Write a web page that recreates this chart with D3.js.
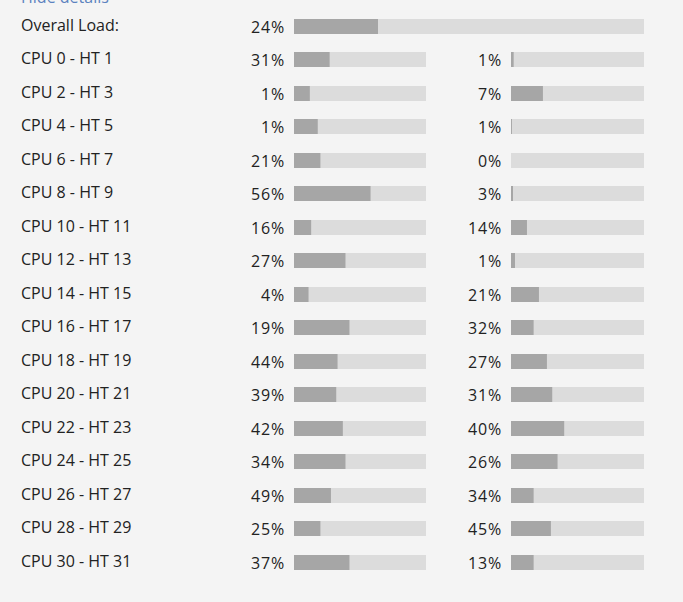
<!DOCTYPE html>
<html>
<head>
<meta charset="utf-8">
<script src="https://cdn.jsdelivr.net/npm/d3@7"></script>
<style>
  body { margin: 0; background: #f4f4f4; }
  svg { display: block; font-family: "Open Sans", sans-serif; }
</style>
</head>
<body>
<svg width="683" height="602"></svg>
<script>
var rowLabels = ["Overall Load:", "CPU 0 - HT 1", "CPU 2 - HT 3", "CPU 4 - HT 5", "CPU 6 - HT 7",
    "CPU 8 - HT 9", "CPU 10 - HT 11", "CPU 12 - HT 13", "CPU 14 - HT 15", "CPU 16 - HT 17",
    "CPU 18 - HT 19", "CPU 20 - HT 21", "CPU 22 - HT 23", "CPU 24 - HT 25", "CPU 26 - HT 27",
    "CPU 28 - HT 29", "CPU 30 - HT 31"];

// shown percentages
var overallPct = 24;
var cpuPct = [31, 1, 1, 21, 56, 16, 27, 4, 19, 44, 39, 42, 34, 49, 25, 37];
var htPct = [1, 7, 1, 0, 3, 14, 1, 21, 32, 27, 31, 40, 26, 34, 45, 13];

// bar fill levels (bars lag behind the numbers in the snapshot)
var overallFill = 24;
var cpuFill = [27, 12, 18, 20, 58, 13, 39, 11, 42, 33, 32, 37, 39, 28, 20, 42];
var htFill = [2, 24, 0.7, 0, 1.5, 12, 3, 21, 17, 27, 31, 40, 35, 17, 30, 17];

var svg = d3.select("svg");

var y = d3.scalePoint()
    .domain(rowLabels)
    .range([18.8, 18.8 + 16 * 33.5]);

var xFull = d3.scaleLinear().domain([0, 100]).range([294, 644]);
var xLeft = d3.scaleLinear().domain([0, 100]).range([294, 426]);
var xRight = d3.scaleLinear().domain([0, 100]).range([511, 644]);
var barH = 15;

var rows = [{label: rowLabels[0], bars: [{pct: overallPct, fill: overallFill, x: xFull}]}];
for (var i = 0; i < cpuPct.length; ++i) {
    rows.push({
        label: rowLabels[i + 1],
        bars: [
            {pct: cpuPct[i], fill: cpuFill[i], x: xLeft},
            {pct: htPct[i], fill: htFill[i], x: xRight}
        ]
    });
}

// link at the top, cut off by the window edge in the original too
svg.append("text")
    .attr("x", 21)
    .attr("y", 3)
    .attr("font-size", 16)
    .attr("fill", "#5b82bf")
    .text("Hide details");

var row = svg.selectAll("g.row")
    .data(rows)
    .enter().append("g")
    .attr("class", "row")
    .attr("transform", function (d) {
        return "translate(0," + Math.round(y(d.label)) + ")";
    });

row.append("text")
    .attr("x", 21)
    .attr("y", 12)
    .attr("font-size", 16)
    .attr("fill", "#222")
    .text(function (d) { return d.label; });

var bar = row.selectAll("g.bar")
    .data(function (d) { return d.bars; })
    .enter().append("g")
    .attr("class", "bar");

bar.append("rect")
    .attr("x", function (d) { return d.x(0); })
    .attr("y", 0)
    .attr("width", function (d) { return d.x(100) - d.x(0); })
    .attr("height", barH)
    .attr("fill", "#dcdcdc");

bar.append("rect")
    .attr("x", function (d) { return d.x(0); })
    .attr("y", 0)
    .attr("width", function (d) { return d.x(d.fill) - d.x(0); })
    .attr("height", barH)
    .attr("fill", "#a6a6a6");

bar.append("text")
    .attr("x", function (d) { return d.x(0) - 9; })
    .attr("y", 14)
    .attr("text-anchor", "end")
    .attr("font-size", 16)
    .attr("letter-spacing", 0.8)
    .attr("fill", "#222")
    .text(function (d) { return d.pct + "%"; });
</script>
</body>
</html>
